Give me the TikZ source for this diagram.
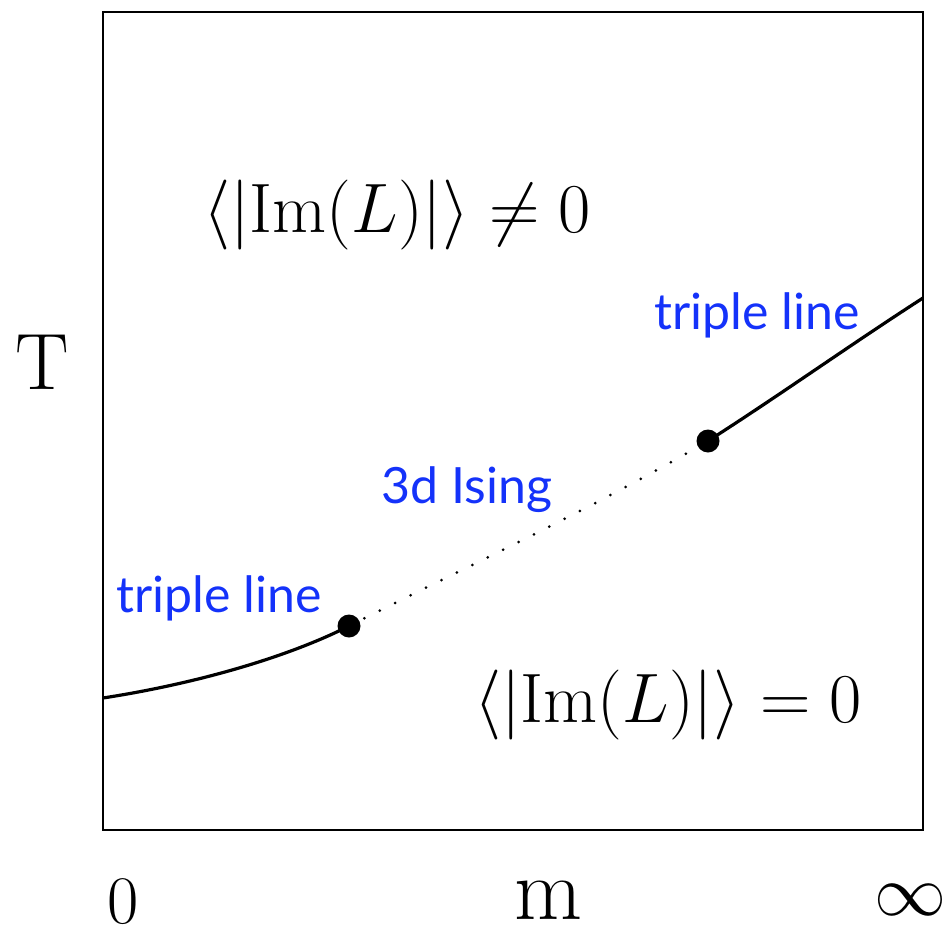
\documentclass[tikz,border=0pt]{standalone}
\usepackage{fix-cm}
\usepackage{fontspec}
\newfontfamily\labelfont{Lato}
\definecolor{labelblue}{RGB}{20,50,250}
\begin{document}
\begin{tikzpicture}[x=0.5pt,y=-0.5pt,
  frame/.style={draw=black,line width=0.9pt},
  curve/.style={draw=black,line width=1.6pt},
  dotline/.style={draw=black,line width=1.5pt,line cap=round,dash pattern=on 0pt off 8.6pt},
  pt/.style={circle,fill=black,inner sep=0pt,minimum size=11.5pt},
  bluelabel/.style={text=labelblue,font=\labelfont\fontsize{25}{30}\selectfont,inner sep=0pt},
  mathlabel/.style={font=\fontsize{35}{42}\selectfont,inner sep=0pt},
  axislabel/.style={inner sep=0pt}]
\useasboundingbox (0,0) rectangle (943,937);
\draw[frame] (103,12) rectangle (923,830);
\coordinate (lstart) at (103,698);
\coordinate (rend) at (923,298);
\node[pt] (p1) at (349,626) {};
\node[pt] (p2) at (708,441) {};
\draw[curve] (lstart) .. controls (200,683) and (290,656) .. (p1.center);
\draw[dotline] (p1.center) .. controls (470,565) and (590,510) .. (p2.center);
\draw[curve] (p2.center) .. controls (780,395) and (850,345) .. (rend);
\node[bluelabel] (tl1) at (219,598) {triple line};
\node[bluelabel] (tl2) at (757,315) {triple line};
\node[bluelabel] (ising) at (467,490) {3d Ising};
\node[mathlabel] (ne) at (397,215) {$\langle|\mathrm{Im}(L)|\rangle\neq 0$};
\node[mathlabel] (eq) at (668,705) {$\langle|\mathrm{Im}(L)|\rangle= 0$};
\node[axislabel,font=\fontsize{40}{48}\selectfont] (T) at (42,362) {T};
\node[axislabel,font=\fontsize{34}{40}\selectfont] (zero) at (123,902) {0};
\node[axislabel,font=\fontsize{44}{52}\selectfont] (m) at (548,900) {m};
\node[axislabel,font=\fontsize{36}{44}\selectfont] (inf) at (910,900) {$\infty$};
\end{tikzpicture}
\end{document}
